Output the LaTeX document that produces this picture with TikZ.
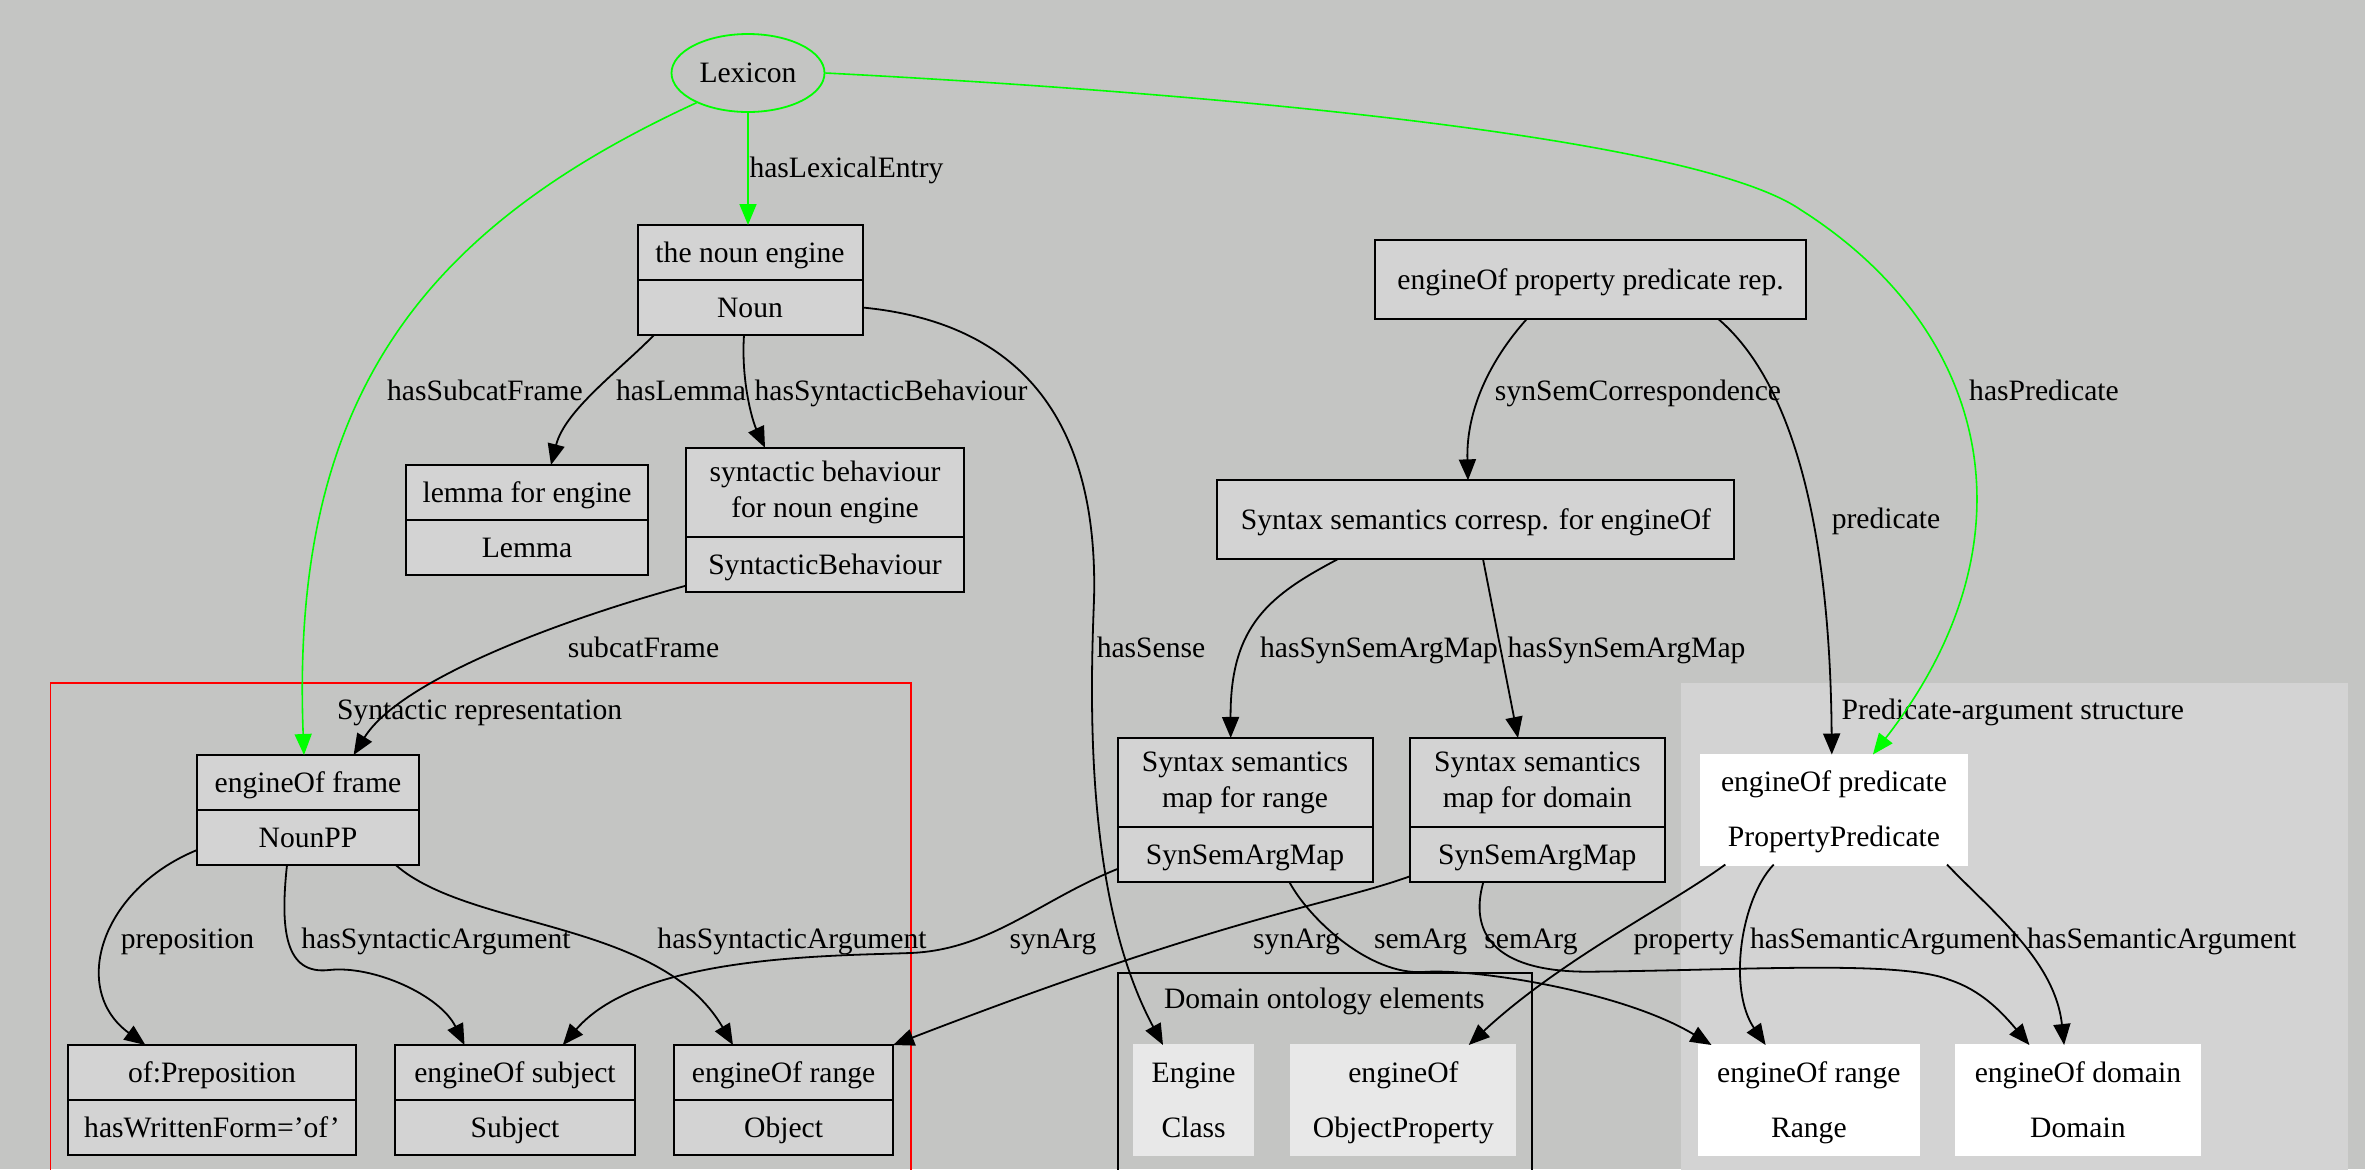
\documentclass[tikz,border=0pt]{standalone}
\usepackage{fontspec}
\setmainfont{Liberation Serif}
\usetikzlibrary{shapes.geometric, arrows.meta, positioning}
\definecolor{bggray}{HTML}{C4C5C3}
\definecolor{boxgray}{HTML}{D3D3D3}
\definecolor{ontogray}{HTML}{E8E8E8}
\definecolor{lexgreen}{HTML}{00FF00}
\tikzset{
  part/.style={draw=black, line width=1pt, fill=boxgray, inner sep=0pt, outer sep=0pt,
    minimum height=27.5pt, text height=11pt, text depth=1.2pt},
  tallpart/.style={draw=black, line width=1pt, fill=boxgray, inner sep=0pt, outer sep=0pt,
    minimum height=44.75pt, align=center, execute at begin node=\rule{0pt}{14pt}},
  wpart/.style={part, draw=white, fill=white},
  opart/.style={part, draw=ontogray, fill=ontogray},
  lbl/.style={inner sep=0pt, text height=10.6pt, text depth=2.9pt},
  edge/.style={line width=0.9pt, -{Triangle[length=10.5pt,width=8.5pt]}},
  gedge/.style={edge, draw=lexgreen, line width=0.8pt}
}

\begin{document}
\begin{tikzpicture}[x=0.5pt, y=-0.5pt, font=\fontsize{14.8}{17.75}\selectfont]

% Background
\useasboundingbox (0,0) rectangle (2365,1169);
\clip (0,0) rectangle (2365,1169);
\fill[bggray] (0,0) rectangle (2365,1169);

% Clusters
\draw[red, line width=0.9pt] (50.5,683) rectangle (910.7,1200);
\fill[boxgray] (1681,682.7) rectangle (2348,1200);
\draw[black, line width=0.9pt] (1117.7,973) rectangle (1531.6,1200);
\node[lbl] (synrep) at (479.6,711.5) {Syntactic representation};
\node[lbl] (domont) at (1324.3,1001) {Domain ontology elements};
\node[lbl] (predarg) at (2012.8,711.5) {Predicate-argument structure};

% Lexicon
\node[draw=lexgreen, line width=0.9pt, ellipse, minimum width=76.5pt, minimum height=39pt, inner sep=0pt] (lexicon) at (748,73) {Lexicon};

% Lexical entry side
\node[part, minimum width=112.5pt] (nounT) at (750,252.5) {the noun engine};
\node[part, minimum width=112.5pt, below=0pt of nounT] (noun) {Noun};

\node[part, minimum width=121.3pt] (lemmaT) at (527,492.5) {lemma for engine};
\node[part, minimum width=121.3pt, below=0pt of lemmaT] (lemma) {Lemma};

\node[tallpart, minimum width=139.3pt] (behT) at (825,492.5) {syntactic behaviour\\for noun engine};
\node[part, minimum width=139.3pt, below=0pt of behT] (beh) {SyntacticBehaviour};

% Syntactic representation
\node[part, minimum width=111.4pt] (frameT) at (308,782.5) {engineOf frame};
\node[part, minimum width=111.4pt, below=0pt of frameT] (frame) {NounPP};

\node[part, minimum width=144pt] (prepT) at (212,1072.5) {of:Preposition};
\node[part, minimum width=144pt, below=0pt of prepT] (prep) {hasWrittenForm=’of’};

\node[part, minimum width=120pt] (subjT) at (515,1072.5) {engineOf subject};
\node[part, minimum width=120pt, below=0pt of subjT] (subj) {Subject};

\node[part, minimum width=109.5pt] (objT) at (783.6,1072.5) {engineOf range};
\node[part, minimum width=109.5pt, below=0pt of objT] (obj) {Object};

% Syntax-semantics mapping
\node[part, minimum width=215.8pt, minimum height=39.25pt] (predrep) at (1590.5,279.5) {engineOf property predicate rep.};
\node[part, minimum width=258.5pt, minimum height=39.35pt] (corresp) at (1475.9,519.7) {Syntax semantics corresp. for engineOf};

\node[tallpart, minimum width=127.5pt] (rmapT) at (1245,782.7) {Syntax semantics\\map for range};
\node[part, minimum width=127.5pt, below=0pt of rmapT] (rmap) {SynSemArgMap};

\node[tallpart, minimum width=127.5pt] (dmapT) at (1537.3,782.7) {Syntax semantics\\map for domain};
\node[part, minimum width=127.5pt, below=0pt of dmapT] (dmap) {SynSemArgMap};

% Domain ontology elements
\node[opart, minimum width=59.7pt] (engT) at (1193.6,1072.5) {Engine};
\node[opart, minimum width=59.7pt, below=0pt of engT] (eng) {Class};

\node[opart, minimum width=112pt] (opropT) at (1403.4,1072.5) {engineOf};
\node[opart, minimum width=112pt, below=0pt of opropT] (oprop) {ObjectProperty};

% Predicate-argument structure
\node[wpart, minimum width=133pt] (predT) at (1834,782) {engineOf predicate};
\node[wpart, minimum width=133pt, below=0pt of predT] (pred) {PropertyPredicate};

\node[wpart, minimum width=110pt] (rngT) at (1808.8,1072.5) {engineOf range};
\node[wpart, minimum width=110pt, below=0pt of rngT] (rng) {Range};

\node[wpart, minimum width=121.85pt] (domT) at (2077.9,1072.5) {engineOf domain};
\node[wpart, minimum width=121.85pt, below=0pt of domT] (dom) {Domain};

% Lexicon edges
\draw[gedge] (lexicon.south) -- (lexicon.south |- nounT.north);
\node[lbl] (lLexEntry) at (846.5,170) {hasLexicalEntry};

\draw[gedge] (lexicon.210) .. controls (420,230) and (290,400) .. ([xshift=-2pt]frameT.north);
\node[lbl] (lSubcat) at (485,392.5) {hasSubcatFrame};

\draw[gedge] (lexicon.east) .. controls (1250,95) and (1700,140) .. (1801,210)
  .. controls (1990,330) and (2040,540) .. ([xshift=19.45pt]predT.north);
\node[lbl] (lHasPred) at (2044,392.5) {hasPredicate};

% Lexical entry edges
\draw[edge] ([xshift=-48pt]noun.south) .. controls (620,370) and (565,410) .. ([xshift=12pt]lemmaT.north);
\node[lbl] (lLemma) at (681,392.5) {hasLemma};

\draw[edge] ([xshift=-3pt]noun.south) .. controls (741,380) and (752,420) .. ([xshift=-30pt]behT.north);
\node[lbl] (lBeh) at (891,392.5) {hasSyntacticBehaviour};

\draw[edge] (noun.east) .. controls (1045,325) and (1098,450) .. (1094,600)
  .. controls (1090,700) and (1085,900) .. ([xshift=-15.3pt]engT.north);
\node[lbl] (lSense) at (1151,649.5) {hasSense};

\draw[edge] ([yshift=-10.5pt]beh.west) .. controls (560,620) and (400,680) .. ([xshift=22.8pt]frameT.north);
\node[lbl] (lFrame) at (643.5,649.5) {subcatFrame};

% Frame edges
\draw[edge] ([yshift=-6.35pt]frame.west) .. controls (100,890) and (70,990) .. ([xshift=-33.3pt]prepT.north);
\node[lbl] (lPrep) at (187.5,940.5) {preposition};

\draw[edge] ([xshift=-10.5pt]frame.south) .. controls (280,930) and (285,975) .. (329,970)
  .. controls (373,965) and (440,995) .. ([xshift=-25.25pt]subjT.north);
\node[lbl] (lArg1) at (436,940.5) {hasSyntacticArgument};

\draw[edge] ([xshift=43.85pt]frame.south) .. controls (470,930) and (660,920) .. ([xshift=-25.3pt]objT.north);
\node[lbl] (lArg2) at (792,940.5) {hasSyntacticArgument};

% Mapping edges
\draw[edge] ([xshift=-31.75pt]predrep.south) .. controls (1490,360) and (1466,410) .. ([xshift=-3.95pt]corresp.north);
\node[lbl] (lCorr) at (1638,392.5) {synSemCorrespondence};

\draw[edge] ([xshift=63.75pt]predrep.south) .. controls (1790,380) and (1830,520) .. ([xshift=-1.1pt]predT.north);
\node[lbl] (lPred) at (1886,520.5) {predicate};

\draw[edge] ([xshift=-68.95pt]corresp.south) .. controls (1270,595) and (1230,625) .. ([xshift=-7.15pt]rmapT.north);
\node[lbl] (lMap1) at (1379,650) {hasSynSemArgMap};

\draw[edge] ([xshift=3.55pt]corresp.south) -- ([xshift=-9.65pt]dmapT.north);
\node[lbl] (lMap2) at (1626.5,650) {hasSynSemArgMap};

\draw[edge] ([yshift=-7pt]rmap.west) .. controls (1040,900) and (990,950) .. (910,953)
  .. controls (830,956) and (640,955) .. ([xshift=23.9pt]subjT.north);
\node[lbl] (lSyn1) at (1053,940.5) {synArg};

\draw[edge] ([yshift=-10.7pt]dmap.west) .. controls (1330,905) and (1230,915) .. (objT.north east);
\node[lbl] (lSyn2) at (1296.5,940.5) {synArg};

\draw[edge] ([xshift=22.3pt]rmap.south) .. controls (1310,920) and (1370,975) .. (1423,972)
  .. controls (1470,968) and (1620,990) .. ([xshift=-48.65pt]rngT.north);
\node[lbl] (lSem1) at (1420.6,940.5) {semArg};

\draw[edge] ([xshift=-27.05pt]dmap.south) .. controls (1470,930) and (1490,972) .. (1589,971.7)
  .. controls (1750,970) and (1900,960) .. (1950,980)
  .. controls (1980,990) and (2000,1010) .. ([xshift=-24.25pt]domT.north);
\node[lbl] (lSem2) at (1531,940.5) {semArg};

% Predicate edges
\draw[edge] ([xshift=-54.35pt]pred.south) .. controls (1670,905) and (1560,960) .. ([xshift=32.65pt]opropT.north);
\node[lbl] (lProp) at (1683.7,940.5) {property};

\draw[edge] ([xshift=-30.15pt]pred.south) .. controls (1740,900) and (1728,990) .. ([xshift=-21.6pt]rngT.north);
\node[lbl] (lSemArg1) at (1884.6,940.5) {hasSemanticArgument};

\draw[edge] ([xshift=56.5pt]pred.south) .. controls (1990,910) and (2055,960) .. ([xshift=-6.9pt]domT.north);
\node[lbl] (lSemArg2) at (2161.7,940.5) {hasSemanticArgument};

\end{tikzpicture}
\end{document}
